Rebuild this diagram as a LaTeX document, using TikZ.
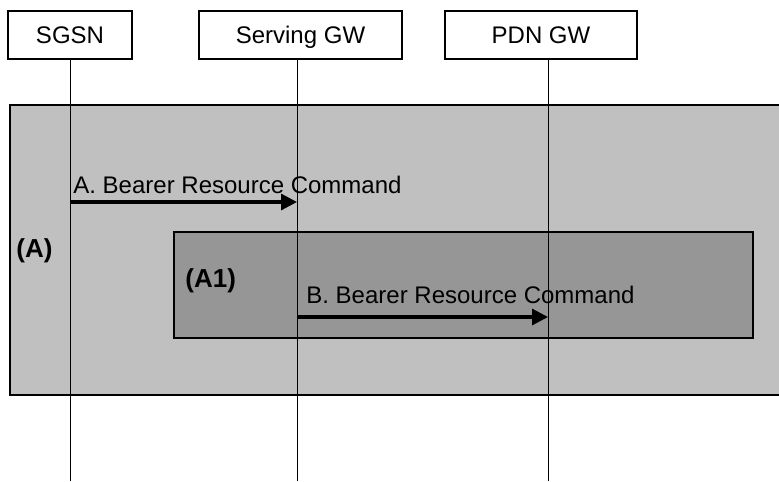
\documentclass[tikz,border=0pt]{standalone}
\usepackage{fontspec}
\setmainfont{Liberation Sans}
\usetikzlibrary{arrows.meta}
\definecolor{grpouter}{HTML}{C0C0C0}
\definecolor{grpinner}{HTML}{969696}
\tikzset{
  sq ent/.style={draw, line width=1pt, fill=white, minimum height=24pt, inner sep=0pt,
                 text height=8.6pt, text depth=0pt, font=\fontsize{12}{14}\selectfont},
  sq life/.style={line width=0.5pt},
  sq grp/.style={draw, line width=0.9pt},
  sq msg/.style={-{Triangle[length=8pt,width=8pt]}, line width=1.6pt},
  sq lab/.style={font=\fontsize{12}{14}\selectfont, inner sep=0pt, anchor=base west},
  sq tag/.style={font=\fontsize{13}{15}\selectfont\bfseries, inner sep=0pt, anchor=base west},
}
\begin{document}
\begin{tikzpicture}[x=0.5pt, y=-0.5pt]
  \useasboundingbox (0,0) rectangle (779,481);
  % procedure frames
  \draw[sq grp, fill=grpouter] (10,105) rectangle (781,395);
  \draw[sq grp, fill=grpinner] (174,232) rectangle (753,338);
  % entities
  \node[sq ent, minimum width=62pt] (sgsn) at (70,35) {SGSN};
  \node[sq ent, minimum width=101.5pt] (sgw) at (300.5,35) {Serving GW};
  \node[sq ent, minimum width=96pt] (pgw) at (541,35) {PDN GW};
  % lifelines
  \coordinate (sgsn l) at (70,59);
  \coordinate (sgw l) at (297,59);
  \coordinate (pgw l) at (548,59);
  \coordinate (bot) at (0,481);
  \foreach \l in {sgsn l, sgw l, pgw l} \draw[sq life] (\l) -- (\l |- bot);
  % messages
  \coordinate (msgA) at (0,202);
  \coordinate (msgB) at (0,317);
  \draw[sq msg] (sgsn l |- msgA) -- (sgw l |- msgA);
  \draw[sq msg] (sgw l |- msgB) -- (pgw l |- msgB);
  \node[sq lab] (labA) at (73,193) {A. Bearer Resource Command};
  \node[sq lab] (labB) at (306,303) {B. Bearer Resource Command};
  \node[sq tag] (tagA) at (16,257) {(A)};
  \node[sq tag] (tagA1) at (185,287) {(A1)};
\end{tikzpicture}
\end{document}
